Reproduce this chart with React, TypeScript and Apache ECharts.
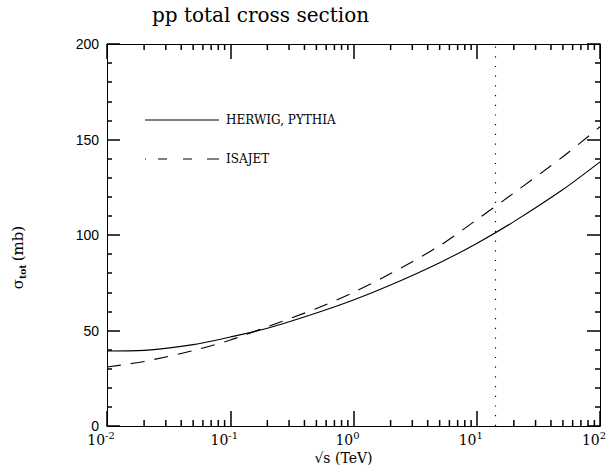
import { useEffect, useRef } from "react";
import * as echarts from "echarts";

// sqrt(s) in TeV
const energies = [0.01, 0.02, 0.05, 0.1, 0.2, 0.5, 1, 2, 5, 10, 20, 50, 100];
// sigma_tot in mb
const herwigPythia = [39.3, 39.6, 42.6, 46.6, 51.2, 59.2, 66.0, 73.8, 85.5, 95.6, 107.0, 123.8, 138.3];
const isajet = [30.9, 33.8, 39.5, 45.0, 52.0, 61.5, 70.0, 79.8, 94.4, 108.0, 122.0, 141.0, 156.7];
const lhcEnergy = 14;
const xDecades = [0.01, 0.1, 1, 10, 100];
const minorMultipliers = [2, 3, 4, 5, 6, 7, 8, 9];
const yMin = 0;
const yMax = 200;
const yInterval = 50;
const seriesNames = ["HERWIG, PYTHIA", "ISAJET"];

const minorTicks: number[][] = [];
xDecades.slice(0, -1).forEach((d) => {
  minorMultipliers.forEach((k) => minorTicks.push([k * d, 0]));
});

const SERIF = "'DejaVu Serif', serif";
const SANS = "'Liberation Sans', Arial, sans-serif";
const INK = "#000";

export default function App() {
  const ref = useRef<HTMLDivElement>(null);
  useEffect(() => {
    if (!ref.current) return;
    const chart = echarts.init(ref.current, undefined, { renderer: "svg" });
    const black = "#000";
    const xCommon = {
      type: "log" as const,
      logBase: 10,
      min: xDecades[0],
      max: xDecades[xDecades.length - 1],
      interval: 1,
      axisLine: { show: true, onZero: false, lineStyle: { color: black, width: 1 } },
      axisTick: { show: true, inside: true, length: 15, lineStyle: { color: INK, width: 1.5 } },
      splitLine: { show: false },
    };
    const yCommon = {
      type: "value" as const,
      min: yMin,
      max: yMax,
      interval: yInterval,
      axisLine: { show: true, onZero: false, lineStyle: { color: black, width: 1 } },
      axisTick: { show: true, inside: true, length: 13, lineStyle: { color: INK, width: 1.5 } },
      minorTick: { show: true, splitNumber: 5, length: 5, lineStyle: { color: INK, width: 1.5 } },
      splitLine: { show: false },
    };
    chart.setOption({
      animation: false,
      backgroundColor: "#fff",
      title: {
        text: "pp total cross section",
        left: 147,
        top: 0,
        textStyle: { fontFamily: SERIF, fontSize: 20, fontWeight: "normal", color: black },
      },
      grid: { left: 107, right: 9, top: 44, bottom: 39, containLabel: false, outerBoundsMode: "none" },
      xAxis: [
        {
          ...xCommon,
          position: "bottom",
          name: "√s (TeV)",
          nameLocation: "middle",
          nameGap: 24,
          nameMoveOverlap: false,
          nameTextStyle: { fontFamily: SERIF, fontSize: 14, lineHeight: 15, color: black, padding: [0, 20, 0, 0] },
          axisLabel: {
            show: true,
            margin: 4,
            padding: [0, 12, 0, 0],
            formatter: (v: number) => `{b|10}{s|${Math.round(Math.log10(v))}}`,
            rich: {
              b: { fontFamily: SERIF, fontSize: 14, lineHeight: 20, color: black },
              s: { fontFamily: SERIF, fontSize: 10, lineHeight: 10, verticalAlign: "top", color: black },
            },
          },
        },
        { ...xCommon, position: "top", axisLabel: { show: false } },
      ],
      yAxis: [
        {
          ...yCommon,
          position: "left",
          name: "{a|σ}{b|tot} {a|(mb)}",
          nameLocation: "middle",
          nameGap: 80,
          nameRotate: 90,
          nameMoveOverlap: false,
          nameTextStyle: {
            padding: [0, 45, 0, 0],
            rich: {
              a: { fontFamily: SERIF, fontSize: 15, lineHeight: 18, color: black },
              b: { fontFamily: SERIF, fontSize: 9, lineHeight: 9, verticalAlign: "bottom", fontWeight: "bold", color: black },
            },
          },
          axisLabel: { show: true, margin: 8, fontFamily: SANS, fontSize: 14, color: black },
        },
        { ...yCommon, position: "right", axisLabel: { show: false } },
      ],
      series: [
        {
          name: seriesNames[0],
          type: "line",
          data: energies.map((e, i) => [e, herwigPythia[i]]),
          smooth: 0.3,
          symbol: "none",
          lineStyle: { color: black, width: 1.1, type: "solid" },
          markLine: {
            silent: true,
            symbol: "none",
            label: { show: false },
            lineStyle: { color: black, width: 1.2, type: [1.2, 8.5] },
            data: [{ xAxis: lhcEnergy }],
          },
        },
        {
          name: seriesNames[1],
          type: "line",
          data: energies.map((e, i) => [e, isajet[i]]),
          smooth: 0.3,
          symbol: "none",
          lineStyle: { color: black, width: 1.1, type: [14, 10] },
        },
        {
          type: "custom",
          silent: true,
          clip: false,
          data: minorTicks,
          encode: { x: 0, y: 1 },
          renderItem: (_params: any, api: any) => {
            const v = api.value(0);
            const b = api.coord([v, yMin]);
            const t = api.coord([v, yMax]);
            const st = { stroke: INK, lineWidth: 1.5 };
            return {
              type: "group",
              children: [
                { type: "line", shape: { x1: b[0], y1: b[1], x2: b[0], y2: b[1] - 6 }, style: st },
                { type: "line", shape: { x1: t[0], y1: t[1], x2: t[0], y2: t[1] + 6 }, style: st },
              ],
            };
          },
        },
      ],
      graphic: [
        { type: "line", shape: { x1: 145, y1: 120, x2: 219, y2: 120 }, style: { stroke: black, lineWidth: 1.1 } },
        {
          type: "text",
          x: 226,
          y: 120,
          style: { text: seriesNames[0], fontFamily: SERIF, fontSize: 12, fill: black, verticalAlign: "middle" },
        },
        {
          type: "line",
          shape: { x1: 145, y1: 159, x2: 219, y2: 159 },
          style: { stroke: black, lineWidth: 1.1, lineDash: [1, 12, 9, 16, 9, 15, 12] },
        },
        {
          type: "text",
          x: 226,
          y: 159,
          style: { text: seriesNames[1], fontFamily: SERIF, fontSize: 12, fill: black, verticalAlign: "middle" },
        },
      ],
    });
    return () => chart.dispose();
  }, []);
  return <div ref={ref} style={{ position: "fixed", left: 0, top: 0, width: 609, height: 465 }} />;
}
